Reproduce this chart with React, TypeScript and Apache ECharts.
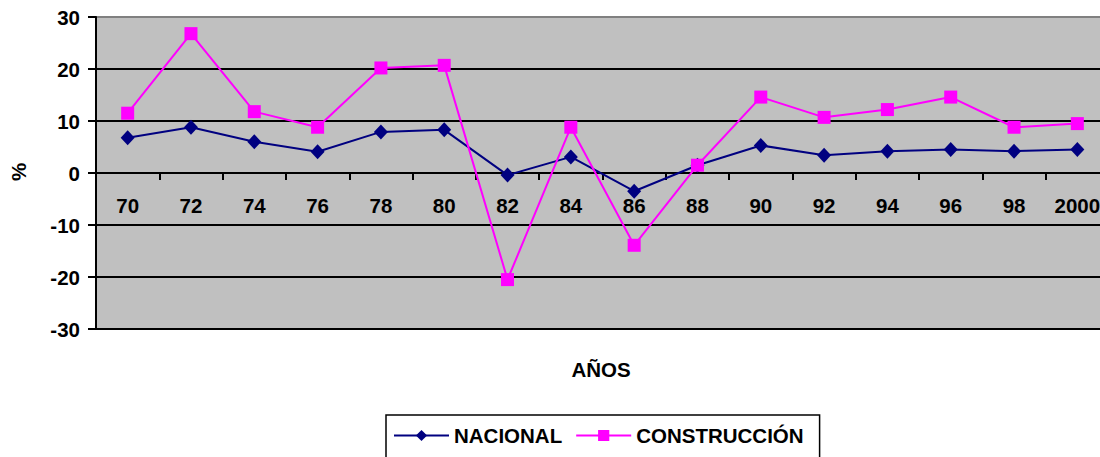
import React, { useEffect, useRef } from "react";
import * as echarts from "echarts";

const categories = ["70", "72", "74", "76", "78", "80", "82", "84", "86", "88", "90", "92", "94", "96", "98", "2000"];
const nacional = [6.8, 8.8, 6.0, 4.1, 7.9, 8.3, -0.4, 3.1, -3.5, 1.5, 5.3, 3.4, 4.2, 4.5, 4.2, 4.5];
const construccion = [11.5, 26.8, 11.8, 8.8, 20.2, 20.7, -20.5, 8.8, -13.9, 1.5, 14.6, 10.7, 12.2, 14.6, 8.8, 9.5];
const yTicks = { min: -30, max: 30, interval: 10 };

const FONT = "'Liberation Sans', Arial, sans-serif";
const FS = 20.5;

export default function App() {
  const ref = useRef<HTMLDivElement>(null);
  useEffect(() => {
    if (!ref.current) return;
    const chart = echarts.init(ref.current, null, { renderer: "svg" });
    const gridHeight = 312;
    chart.setOption({
      animation: false,
      backgroundColor: "#ffffff",
      textStyle: { fontFamily: FONT },
      grid: {
        left: 96,
        top: 17,
        width: 1013,
        height: gridHeight,
        show: true,
        backgroundColor: "#C0C0C0",
        borderColor: "#808080",
        borderWidth: 1,
      },
      xAxis: {
        type: "category",
        data: categories,
        boundaryGap: true,
        position: "bottom",
        offset: -gridHeight / 2,
        axisLine: { onZero: false, lineStyle: { color: "#000", width: 2 } },
        axisTick: { show: true, length: 7, lineStyle: { color: "#000", width: 2 } },
        axisLabel: {
          margin: 22,
          color: "#000",
          fontSize: FS,
          fontWeight: "bold",
          fontFamily: FONT,
          interval: 0,
        },
        splitLine: { show: false },
      },
      yAxis: {
        type: "value",
        min: yTicks.min,
        max: yTicks.max,
        interval: yTicks.interval,
        axisLine: { show: true, lineStyle: { color: "#000", width: 2 } },
        axisTick: { show: true, length: 8, lineStyle: { color: "#000", width: 2 } },
        axisLabel: {
          margin: 16,
          color: "#000",
          fontSize: FS,
          fontWeight: "bold",
          fontFamily: FONT,
        },
        splitLine: {
          show: true,
          lineStyle: {
            color: ["#000", "#000", "#000", "#000", "#000", "#000", "#808080"],
            width: 2,
          },
        },
      },
      legend: {
        left: 386,
        top: 415,
        orient: "horizontal",
        padding: [10, 16, 12, 7],
        itemGap: 13,
        itemWidth: 55,
        itemHeight: 14,
        borderColor: "#000",
        borderWidth: 1.5,
        textStyle: { color: "#000", fontSize: FS, fontWeight: "bold", fontFamily: FONT },
        data: ["NACIONAL", "CONSTRUCCIÓN"],
      },
      graphic: [
        {
          type: "text",
          x: 601,
          y: 369,
          style: {
            text: "AÑOS",
            font: `bold ${FS}px ${FONT}`,
            fill: "#000",
            textAlign: "center",
            textVerticalAlign: "middle",
          },
        },
        {
          type: "text",
          x: 18,
          y: 172,
          rotation: Math.PI / 2,
          style: {
            text: "%",
            font: `bold ${FS}px ${FONT}`,
            fill: "#000",
            textAlign: "center",
            textVerticalAlign: "middle",
          },
        },
      ],
      series: [
        {
          name: "NACIONAL",
          type: "line",
          data: nacional,
          symbol: "diamond",
          symbolSize: [14, 15],
          itemStyle: { color: "#000080" },
          lineStyle: { color: "#000080", width: 2 },
          z: 2,
        },
        {
          name: "CONSTRUCCIÓN",
          type: "line",
          data: construccion,
          symbol: "rect",
          symbolSize: 13,
          itemStyle: { color: "#FF00FF" },
          lineStyle: { color: "#FF00FF", width: 2 },
          z: 3,
        },
      ],
    });
    return () => chart.dispose();
  }, []);
  return (
    <div style={{ position: "absolute", left: 0, top: 0, width: 1100, height: 457, overflow: "hidden" }}>
      <div ref={ref} style={{ width: 1110, height: 457 }} />
    </div>
  );
}
